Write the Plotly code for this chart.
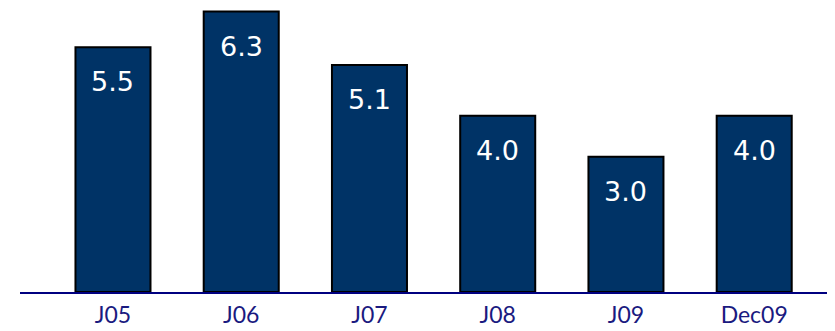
import plotly.graph_objects as go

categories = ["J05", "J06", "J07", "J08", "J09", "Dec09"]
values = [5.5, 6.3, 5.1, 3.96, 3.04, 3.96]
labels = ["5.5", "6.3", "5.1", "4.0", "3.0", "4.0"]

fig = go.Figure()
fig.add_trace(go.Bar(
    x=categories, y=values,
    marker=dict(color="#003366", line=dict(color="#000000", width=2)),
    hoverinfo="skip",
))
for c, v, t in zip(categories, values, labels):
    fig.add_annotation(x=c, y=v, text=t, showarrow=False, yanchor="top",
                       yshift=-17, font=dict(family="DejaVu Sans", size=27, color="white"))

fig.update_layout(
    width=827, height=323,
    margin=dict(l=12, r=0, t=0, b=39),
    paper_bgcolor="white", plot_bgcolor="white",
    bargap=0.415, showlegend=False,
    xaxis=dict(range=[-0.725, 5.63], showline=True, linecolor="#000080", linewidth=2,
               showgrid=False, zeroline=False, ticks="", ticklabelstandoff=1,
               tickfont=dict(family="Lato", size=23, color="#1a1a80")),
    yaxis=dict(range=[0, 6.38], visible=False, showgrid=False, zeroline=False),
)
fig.write_html("out.html")
